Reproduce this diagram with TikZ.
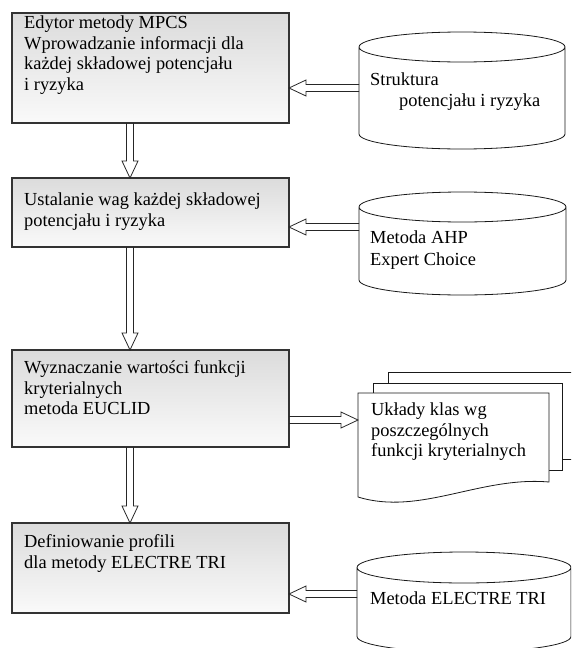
\documentclass[tikz,border=0pt]{standalone}
\usepackage{fontspec}
\setmainfont{Liberation Serif}
\usetikzlibrary{calc}

% cylinder outline round a named node, #2 = y radius of the caps
\newcommand{\dbcylinder}[2]{%
  \draw[dbline] let \p1 = (#1.north west), \p2 = (#1.south east),
      \n1 = {(\x2-\x1)/2} in
    (\x1,\y1-#2) -- (\x1,\y2+#2)
    arc[start angle=180, end angle=360, x radius=\n1, y radius=#2pt]
    -- (\x2,\y1-#2)
    arc[start angle=0, end angle=180, x radius=\n1, y radius=#2pt] -- cycle
    (\x1,\y1-#2) arc[start angle=180, end angle=360, x radius=\n1, y radius=#2pt];}

\begin{document}
\begin{tikzpicture}[x = 1pt, y = 1pt, % one unit = one pixel of the page
                line join = miter
            ]

            \tikzstyle{procbox}=[draw = black!80, line width = 1.2pt,
            top color = black!14, bottom color = black!2, minimum width = 277pt,
            anchor = north west, inner sep = 0pt, outer sep = 0pt]
            \tikzstyle{dbnode}=[anchor = north west, inner sep = 0pt, outer sep = 0pt]
            \tikzstyle{dbline}=[draw = black!90, line width = 0.8pt, fill = white]
            % texts are placed by the baseline of their last line
            \tikzstyle{txt}=[anchor = base west, align = left, inner sep = 0pt,
            font = \fontsize{18.4}{20.5}\selectfont]
            \tikzstyle{hollow}=[draw = black!85, line width = 0.8pt,
            to path = {($(\tikztostart)!3.5pt!90:(\tikztotarget)$)
              -- ($(\tikztotarget)!17pt!(\tikztostart)!3.5pt!90:(\tikztotarget)$)
              -- ($(\tikztotarget)!17pt!(\tikztostart)!8pt!90:(\tikztotarget)$)
              -- (\tikztotarget)
              -- ($(\tikztotarget)!17pt!(\tikztostart)!8pt!-90:(\tikztotarget)$)
              -- ($(\tikztotarget)!17pt!(\tikztostart)!3.5pt!-90:(\tikztotarget)$)
              -- ($(\tikztostart)!3.5pt!-90:(\tikztotarget)$)}]

            \path[use as bounding box, clip] (0,0) rectangle (571,-648);

            % process boxes
            \node[procbox, minimum height = 110pt] (edytor) at (12,-13) {};
            \node[procbox, minimum height = 69pt] (wagi) at (12,-178) {};
            \node[procbox, minimum height = 97pt] (wyznacz) at (12,-350) {};
            \node[procbox, minimum height = 90pt] (profile) at (12,-523) {};

            \node[txt] (edytortxt) at (24,-90) {Edytor metody MPCS\\
              Wprowadzanie informacji dla\\każdej składowej potencjału\\i ryzyka};
            \node[txt] (wagitxt) at (24,-226) {Ustalanie wag każdej składowej\\
              potencjału i ryzyka};
            \node[txt] (wyznacztxt) at (24,-414.5) {Wyznaczanie wartości funkcji\\
              kryterialnych\\metoda EUCLID};
            \node[txt] (profiletxt) at (24,-568) {Definiowanie profili\\
              dla metody ELECTRE TRI};

            % data stores
            \node[dbnode, minimum width = 206pt, minimum height = 117pt] (struktura)
            at (359,-32) {};
            \node[dbnode, minimum width = 207pt, minimum height = 103pt] (ahp)
            at (359,-192) {};
            \node[dbnode, minimum width = 214pt, minimum height = 100pt] (electre)
            at (357,-552) {};
            \dbcylinder{struktura}{15}
            \dbcylinder{ahp}{15}
            \dbcylinder{electre}{15.5}

            \node[txt] (strukturatxt) at (370,-106) {Struktura\\
              \hspace*{29pt}potencjału i ryzyka};
            \node[txt] (ahptxt) at (370,-265) {Metoda AHP\\[1pt]Expert Choice};
            \node[txt] (electretxt) at (370,-604) {Metoda ELECTRE TRI};

            % stack of documents
            \node[dbnode, minimum width = 191pt, minimum height = 89pt] (uklady)
            at (358,-393) {};
            \draw[dbline] (388,-383) -- (388,-372) -- (580,-372) -- (580,-459)
            -- (562,-459);
            \draw[dbline] (373,-393) -- (373,-383) -- (562,-383) -- (562,-470)
            -- (549,-470);
            \draw[dbline] (uklady.north west) -- (uklady.north east)
            -- (uklady.south east) .. controls (480,-476) and (420,-516) ..
            (358,-497) -- cycle;
            \node[txt] (ukladytxt) at (371,-456.5) {Układy klas wg\\poszczególnych\\
              funkcji kryterialnych};

            % flows
            \coordinate (vx) at (130,0);
            \coordinate (in1) at ([yshift=-20pt]edytor.east);
            \coordinate (in2) at ([yshift=-14.5pt]wagi.east);
            \coordinate (out3) at ([yshift=-21.5pt]wyznacz.east);
            \coordinate (in4) at ([yshift=-26pt]profile.east);

            \draw[hollow] (edytor.south -| vx) to (wagi.north -| vx);
            \draw[hollow] (wagi.south -| vx) to (wyznacz.north -| vx);
            \draw[hollow] (wyznacz.south -| vx) to (profile.north -| vx);
            \draw[hollow] (struktura.west |- in1) to (in1);
            \draw[hollow] (ahp.west |- in2) to (in2);
            \draw[hollow] (out3) to (uklady.west |- out3);
            \draw[hollow] (electre.west |- in4) to (in4);
\end{tikzpicture}
\end{document}
